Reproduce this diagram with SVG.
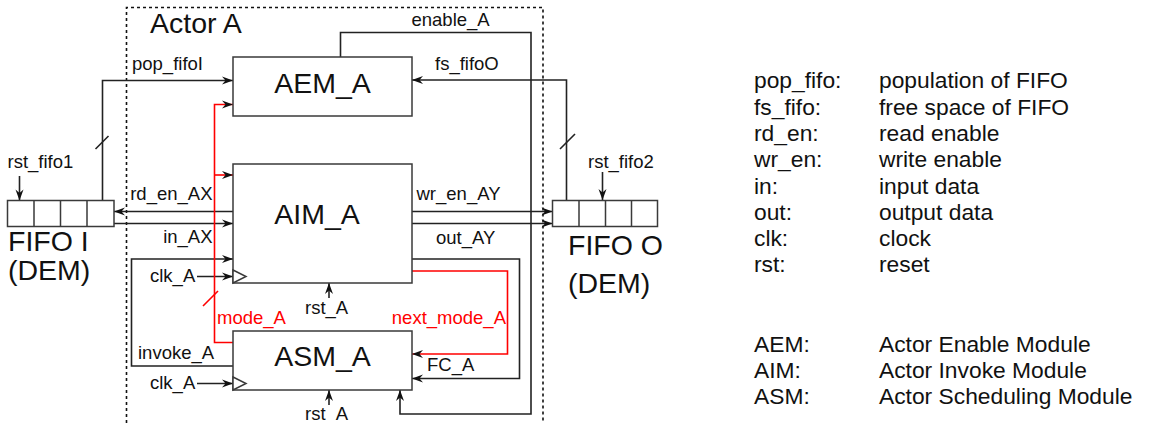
<svg xmlns="http://www.w3.org/2000/svg" width="1151" height="423" viewBox="0 0 1151 423">
<style>
.box{fill:#fff;stroke:#3a3a3a;stroke-width:1.5}
.w{fill:none;stroke:#222;stroke-width:1.6}
.r{fill:none;stroke:#f00;stroke-width:1.6}
.lb{font-family:"Liberation Sans",Arial,sans-serif;font-size:18.5px;fill:#111}
.red{fill:#f00}
.big{font-family:"Liberation Sans",Arial,sans-serif;font-size:28.5px;fill:#111}
.lg{font-family:"Liberation Sans",Arial,sans-serif;font-size:22.8px;fill:#111}
</style>
<defs>
<marker id="ah" markerUnits="userSpaceOnUse" markerWidth="12" markerHeight="10" refX="11" refY="4" orient="auto" overflow="visible">
<path d="M0,0 L11,4 L0,8 L3.5,4 z" fill="#111"/>
</marker>
</defs>
<rect width="1151" height="423" fill="#fff"/>
<g id="actor">
<path d="M126.5,423 V7.5 H543 V423" fill="none" stroke="#111" stroke-width="1.6" stroke-dasharray="3,3"/>
<text class="big" x="150" y="33">Actor A</text>
</g>
<g id="connectors">
<path class="w" d="M102.5,200.5 V80.5 H233" marker-end="url(#ah)"/>
<path class="w" d="M95.5,149 L108.5,136"/>
<path class="w" d="M566.5,200.5 V80 H412" marker-end="url(#ah)"/>
<path class="w" d="M560,149 L575,134"/>
<path class="w" d="M340.5,57 V32.5 H531 V414 H400 V390" marker-end="url(#ah)"/>
<path class="w" d="M233,211.5 H114" marker-end="url(#ah)"/>
<path class="w" d="M114,223.5 H233" marker-end="url(#ah)"/>
<path class="w" d="M412,211.5 H552.5" marker-end="url(#ah)"/>
<path class="w" d="M412,223.5 H552.5" marker-end="url(#ah)"/>
<path class="w" d="M233,366 H131.5 V259 H233" marker-end="url(#ah)"/>
<path class="w" d="M197,276.5 H233" marker-end="url(#ah)"/>
<path class="w" d="M197,383.5 H233" marker-end="url(#ah)"/>
<path class="w" d="M329,298 V283" marker-end="url(#ah)"/>
<path class="w" d="M329,405 V390" marker-end="url(#ah)"/>
<path class="w" d="M412,259 H519.5 V378.5 H412" marker-end="url(#ah)"/>
<path class="r" d="M412,271 H507.5 V354 H412" marker-end="url(#ah)"/>
<path class="r" d="M233,342.5 H214.5 V104.5 H233" marker-end="url(#ah)"/>
<path class="r" d="M214.5,175 H233" marker-end="url(#ah)"/>
<path class="r" d="M203,306 L218,291"/>
<path class="w" d="M19.5,176 V200.5" marker-end="url(#ah)"/>
<path class="w" d="M602.5,172 V200" marker-end="url(#ah)"/>
<text class="lb" x="132" y="70">pop_fifoI</text>
<text class="lb" x="411.5" y="26">enable_A</text>
<text class="lb" x="435" y="70">fs_fifoO</text>
<text class="lb" x="212.5" y="199.5" text-anchor="end">rd_en_AX</text>
<text class="lb" x="212.5" y="243" text-anchor="end">in_AX</text>
<text class="lb" x="150" y="282">clk_A</text>
<text class="lb" x="150" y="389">clk_A</text>
<text class="lb" x="138" y="358.5">invoke_A</text>
<text class="lb red" x="217" y="323.5">mode_A</text>
<text class="lb" x="305" y="313.5">rst_A</text>
<text class="lb" x="305" y="420">rst_A</text>
<text class="lb red" x="506" y="323.5" text-anchor="end">next_mode_A</text>
<text class="lb" x="427" y="371">FC_A</text>
<text class="lb" x="416.5" y="200">wr_en_AY</text>
<text class="lb" x="436" y="243.5">out_AY</text>
</g>
<g id="AEM_A">
<rect class="box" x="233" y="57" width="179" height="59"/>
<text class="big" x="322.5" y="93" text-anchor="middle">AEM_A</text>
</g>
<g id="AIM_A">
<rect class="box" x="233" y="164" width="179" height="119"/>
<polygon class="box" points="233,270 246,276.5 233,283"/>
<text class="big" x="317" y="223.5" text-anchor="middle">AIM_A</text>
</g>
<g id="ASM_A">
<rect class="box" x="233" y="331" width="179" height="59"/>
<polygon class="box" points="233,377 246,383.5 233,390"/>
<text class="big" x="322.5" y="366" text-anchor="middle">ASM_A</text>
</g>
<g id="FIFO_I">
<rect class="box" x="7.5" y="200.5" width="106.5" height="26"/>
<path class="box" d="M34,200.5 V226.5 M60.5,200.5 V226.5 M87,200.5 V226.5"/>
<text class="lb" x="7.5" y="168">rst_fifo1</text>
<text class="big" x="8" y="250.5">FIFO I</text>
<text class="big" x="8" y="279.5">(DEM)</text>
</g>
<g id="FIFO_O">
<rect class="box" x="552.5" y="200.5" width="105" height="26"/>
<path class="box" d="M579,200.5 V226.5 M605.5,200.5 V226.5 M631.5,200.5 V226.5"/>
<text class="lb" x="588" y="168">rst_fifo2</text>
<text class="big" x="568" y="254.5">FIFO O</text>
<text class="big" x="568" y="293">(DEM)</text>
</g>
<g id="legend">
<text class="lg" x="754" y="88.3">pop_fifo:</text><text class="lg" x="879" y="88.3">population of FIFO</text>
<text class="lg" x="754" y="114.6">fs_fifo:</text><text class="lg" x="879" y="114.6">free space of FIFO</text>
<text class="lg" x="754" y="140.9">rd_en:</text><text class="lg" x="879" y="140.9">read enable</text>
<text class="lg" x="754" y="167.2">wr_en:</text><text class="lg" x="879" y="167.2">write enable</text>
<text class="lg" x="754" y="193.5">in:</text><text class="lg" x="879" y="193.5">input data</text>
<text class="lg" x="754" y="219.8">out:</text><text class="lg" x="879" y="219.8">output data</text>
<text class="lg" x="754" y="246.1">clk:</text><text class="lg" x="879" y="246.1">clock</text>
<text class="lg" x="754" y="272.4">rst:</text><text class="lg" x="879" y="272.4">reset</text>
<text class="lg" x="754" y="351.5">AEM:</text><text class="lg" x="879" y="351.5">Actor Enable Module</text>
<text class="lg" x="754" y="377.8">AIM:</text><text class="lg" x="879" y="377.8">Actor Invoke Module</text>
<text class="lg" x="754" y="404.1">ASM:</text><text class="lg" x="879" y="404.1">Actor Scheduling Module</text>
</g>
</svg>
